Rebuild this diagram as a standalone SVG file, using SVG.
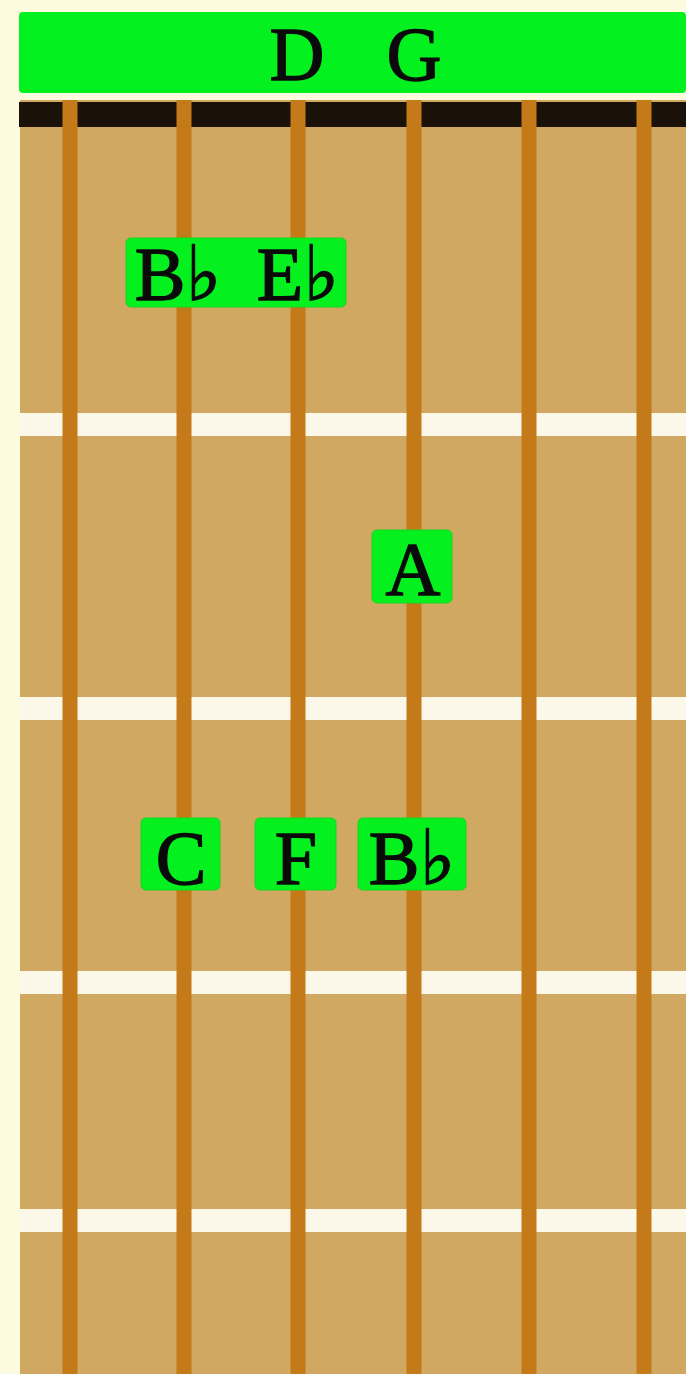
<svg xmlns="http://www.w3.org/2000/svg" width="686" height="1374" viewBox="0 0 686 1374">
  <style>
    .lbl { font-family: "Liberation Serif", "DejaVu Serif", serif; font-size: 76px; fill: #0a0a0a; stroke: #0a0a0a; stroke-width: 1.4; text-anchor: middle; }
    .box { fill: #05f01f; stroke: #12d820; stroke-width: 1; }
    .fret { fill: #fbf8ea; }
    .str { stroke: #c47a18; stroke-width: 15; }
  </style>
  <rect x="0" y="0" width="686" height="1374" fill="#fdfbdf"/>
  <g id="fretboard">
    <rect x="20" y="100" width="666" height="1274" fill="#d1a862"/>
    <rect x="19" y="102" width="667" height="25" fill="#1a1208"/>
    <rect class="fret" x="20" y="413" width="666" height="23"/>
    <rect class="fret" x="20" y="697" width="666" height="23"/>
    <rect class="fret" x="20" y="971" width="666" height="23"/>
    <rect class="fret" x="20" y="1209" width="666" height="23"/>
    <g id="strings">
      <line class="str" x1="70" y1="100" x2="70" y2="1374"/>
      <line class="str" x1="184" y1="100" x2="184" y2="1374"/>
      <line class="str" x1="298" y1="100" x2="298" y2="1374"/>
      <line class="str" x1="414" y1="100" x2="414" y2="1374"/>
      <line class="str" x1="529" y1="100" x2="529" y2="1374"/>
      <line class="str" x1="644" y1="100" x2="644" y2="1374"/>
    </g>
  </g>
  <g id="open-strings">
    <rect x="19" y="12" width="667" height="81" rx="4" fill="#03f21f"/>
    <text class="lbl" x="297" y="80">D</text>
    <text class="lbl" x="414" y="80">G</text>
  </g>
  <g id="node-bb-eb">
    <rect class="box" x="126" y="238" width="220" height="69" rx="5"/>
    <text class="lbl" x="178" y="300">B♭</text>
    <text class="lbl" x="298" y="300">E♭</text>
  </g>
  <g id="node-a">
    <rect class="box" x="372" y="530" width="80" height="73" rx="5"/>
    <text class="lbl" x="413" y="595">A</text>
  </g>
  <g id="node-c">
    <rect class="box" x="141" y="818" width="79" height="72" rx="5"/>
    <text class="lbl" x="181" y="884">C</text>
  </g>
  <g id="node-f">
    <rect class="box" x="255" y="818" width="81" height="72" rx="5"/>
    <text class="lbl" x="296" y="884">F</text>
  </g>
  <g id="node-bb">
    <rect class="box" x="358" y="818" width="108" height="72" rx="5"/>
    <text class="lbl" x="412" y="884">B♭</text>
  </g>
  <g id="connectors"/>
</svg>
